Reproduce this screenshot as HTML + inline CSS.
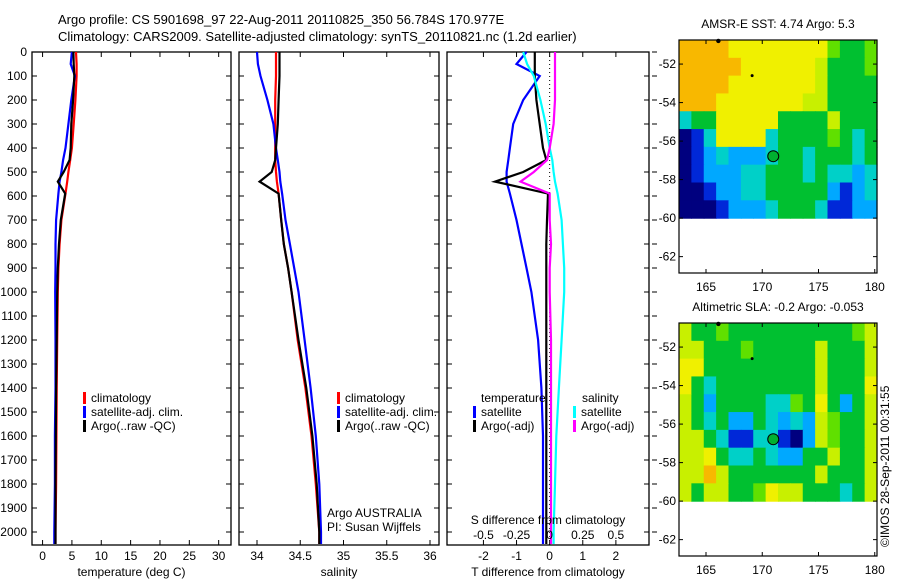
<!DOCTYPE html>
<html><head><meta charset="utf-8"><style>
html,body{margin:0;padding:0;background:#fff;}
svg{display:block;font-family:"Liberation Sans",sans-serif;}
</style></head><body>
<svg id="chart" width="900" height="580" viewBox="0 0 900 580" xmlns="http://www.w3.org/2000/svg">
<text x="58" y="24" font-size="13">Argo profile: CS 5901698_97 22-Aug-2011 20110825_350 56.784S 170.977E</text>
<text x="58" y="41" font-size="13">Climatology: CARS2009. Satellite-adjusted climatology: synTS_20110821.nc (1.2d earlier)</text>
<g id="plots"></g>
<text transform="translate(889,547) rotate(-90)" font-size="12">©IMOS 28-Sep-2011 00:31:55</text>
</svg>
<script>
// ---- profile data ----
const depths   = [0,50,100,200,300,400,450,500,540,590,700,800,900,1000,1200,1400,1600,1800,2000,2050];
const tempClim = [5.7,5.8,5.8,5.6,5.3,5.0,4.7,4.4,4.2,3.9,3.2,2.9,2.7,2.6,2.5,2.4,2.35,2.3,2.2,2.2];
const tempSat  = [5.0,4.8,5.5,4.9,4.4,3.9,3.5,3.2,2.9,2.7,2.3,2.2,2.2,2.15,2.2,2.2,2.1,2.1,2.0,2.0];
const tempArgo = [5.25,5.3,5.4,5.2,4.9,4.8,4.6,3.6,2.6,3.85,3.1,2.8,2.6,2.5,2.4,2.3,2.25,2.2,2.2,2.2];
const salClim  = [34.22,34.22,34.22,34.21,34.21,34.21,34.21,34.22,34.23,34.25,34.28,34.31,34.36,34.40,34.47,34.56,34.63,34.68,34.72,34.72];
const salSat   = [34.0,34.01,34.04,34.12,34.19,34.22,34.24,34.26,34.27,34.29,34.33,34.38,34.43,34.48,34.55,34.62,34.68,34.72,34.74,34.74];
const salArgo  = [34.26,34.26,34.26,34.25,34.24,34.22,34.21,34.17,34.03,34.25,34.28,34.31,34.36,34.40,34.48,34.57,34.64,34.69,34.72,34.72];
const tDiffSat = [-0.7,-1.0,-0.3,-0.8,-1.1,-1.2,-1.25,-1.3,-1.3,-1.2,-1.0,-0.85,-0.7,-0.55,-0.35,-0.25,-0.2,-0.2,-0.2,-0.2];
const tDiffArgo= [-0.45,-0.45,-0.45,-0.4,-0.3,-0.2,-0.1,-0.8,-1.65,-0.05,-0.08,-0.1,-0.1,-0.1,-0.1,-0.1,-0.1,-0.1,-0.1,-0.1];
const sDiffSat = [-0.2,-0.17,-0.12,-0.07,-0.03,0.0,0.02,0.03,0.04,0.06,0.09,0.10,0.11,0.11,0.09,0.07,0.05,0.04,0.03,0.03];
const sDiffArgo= [0.04,0.04,0.04,0.04,0.03,0.0,-0.02,-0.12,-0.22,0.0,0.0,0.01,0.0,0.0,0.01,0.01,0.01,0.01,0.01,0.01];
const depthTicks = [0,100,200,300,400,500,600,700,800,900,1000,1100,1200,1300,1400,1500,1600,1700,1800,1900,2000];
const tempTicks = [0,5,10,15,20,25,30];
const salTicks  = [34,34.5,35,35.5,36];
const salTickLabels = ["34","34.5","35","35.5","36"];
const tdTicks = [-2,-1,0,1,2];
const sdTicks = [-0.5,-0.25,0,0.25,0.5];
const sdTickLabels = ["-0.5","-0.25","0","0.25","0.5"];
// ---- map data (16 cols x 10 rows, palette index) ----
const sstGrid = [
"8888777777775445","8888877777764445","8888777777764444","8887777777664444",
"3447777744446444","0137777344445434","0123222344344434","0122233444343323",
"0012233444442123","0001222344431122"];
const slaGrid = [
"6445444444444456","6644454444464446","7744444444464446","7434444444464447",
"6424444335474246","6434224323265446","6643113310265446","6674334322446446",
"6686444444464446","6466445766444346"];
const palette = ["#00007f","#0028d8","#00a8ff","#00d0c8","#00c030","#60e000","#c8f000","#f0f000","#f8b800"];
const mapLatTicks = [-52,-54,-56,-58,-60,-62];
const mapLonTicks = [165,170,175,180];
const argoPos = [170.977,-56.784];
const starPos = [169.1,-52.6];
const dotPos = [166.1,-50.8];

const NS="http://www.w3.org/2000/svg";
const G=document.getElementById('plots');
function el(tag,attrs,parent,text){const e=document.createElementNS(NS,tag);for(const k in attrs)e.setAttribute(k,attrs[k]);if(text!==undefined)e.textContent=text;(parent||G).appendChild(e);return e;}
const yTop=52, yBot=545;
const yD=d=>yTop+d*0.24;

function panel(name,x0,x1,xmin,xmax){
  const g=el('g',{},G);
  
  
  const sx=v=>x0+(v-xmin)/(xmax-xmin)*(x1-x0);
  return {g,sx};
}
function frame(g,x0,x1,name){
  const r=el('rect',{x:x0,y:yTop,width:x1-x0,height:yBot-yTop,fill:'none',stroke:'#000','stroke-width':1.3},g);
  
  
  depthTicks.forEach(d=>{
    el('line',{x1:x0,x2:x0+5,y1:yD(d),y2:yD(d),stroke:'#000'},g);
    el('line',{x1:x1,x2:x1-5,y1:yD(d),y2:yD(d),stroke:'#000'},g);
  });
}
function series(g,sx,vals,color,name,w){
  const p=el('polyline',{points:vals.map((v,i)=>sx(v).toFixed(1)+','+yD(depths[i]).toFixed(1)).join(' '),fill:'none',stroke:color,'stroke-width':w||2.2},g);
  
  
}
function xticks(g,sx,ticks,labels,x0,x1){
  ticks.forEach((t,i)=>{
    el('line',{x1:sx(t),x2:sx(t),y1:yBot,y2:yBot-5,stroke:'#000'},g);
    el('line',{x1:sx(t),x2:sx(t),y1:yTop,y2:yTop+5,stroke:'#000'},g);
    const tx=el('text',{x:sx(t),y:560,'font-size':12,'text-anchor':'middle'},g,labels[i]);
    
    
  });
}
function legendRow(g,x,y,color,label){
  el('rect',{x:x,y:y-10,width:3,height:12,fill:color},g);
  const t=el('text',{x:x+8,y:y,'font-size':12},g,label);
  
  
}

// Depth labels
depthTicks.forEach(d=>{
  const t=el('text',{x:27,y:yD(d)+4,'font-size':12,'text-anchor':'end'},G,String(d));
  
  
});

// Panel 1: temperature
{const x0=32,x1=231;const P=panel('temperature-panel',x0,x1,-1.8,32.1);
 frame(P.g,x0,x1,'temperature-axes');
 xticks(P.g,P.sx,tempTicks,tempTicks.map(String));
 series(P.g,P.sx,tempClim,'#ff0000','temp-climatology-line');
 series(P.g,P.sx,tempSat,'#0000ff','temp-satellite-line');
 series(P.g,P.sx,tempArgo,'#000000','temp-argo-line');
 const t=el('text',{x:(x0+x1)/2,y:576,'font-size':12,'text-anchor':'middle'},P.g,'temperature (deg C)');
 
 legendRow(P.g,83,402,'#ff0000','climatology');
 legendRow(P.g,83,416,'#0000ff','satellite-adj. clim.');
 legendRow(P.g,83,430,'#000000','Argo(..raw -QC)');
}
// Panel 2: salinity
{const x0=239,x1=439;const P=panel('salinity-panel',x0,x1,33.792,36.104);
 frame(P.g,x0,x1,'salinity-axes');
 xticks(P.g,P.sx,salTicks,salTickLabels);
 series(P.g,P.sx,salClim,'#ff0000','sal-climatology-line');
 series(P.g,P.sx,salSat,'#0000ff','sal-satellite-line');
 series(P.g,P.sx,salArgo,'#000000','sal-argo-line');
 const t=el('text',{x:(x0+x1)/2,y:576,'font-size':12,'text-anchor':'middle'},P.g,'salinity');
 
 legendRow(P.g,337,402,'#ff0000','climatology');
 legendRow(P.g,337,416,'#0000ff','satellite-adj. clim.');
 legendRow(P.g,337,430,'#000000','Argo(..raw -QC)');
 const a=el('text',{x:327,y:517,'font-size':12},P.g,'Argo AUSTRALIA');
 
 const b=el('text',{x:327,y:531,'font-size':12},P.g,'PI: Susan Wijffels');
 
}
// Panel 3: differences
{const x0=447,x1=649;const P=panel('difference-panel',x0,x1,-3.1,3.0);
 const sxS=v=>P.sx(v*4);
 frame(P.g,x0,x1,'difference-axes');
 depthTicks.forEach(d=>el('line',{x1:x1+3,x2:x1+8,y1:yD(d),y2:yD(d),stroke:'#000'},P.g));
 xticks(P.g,P.sx,tdTicks,tdTicks.map(String));
 el('line',{x1:P.sx(0),x2:P.sx(0),y1:yTop,y2:yBot,stroke:'#000','stroke-dasharray':'1,3'},P.g);
 series(P.g,P.sx,tDiffSat,'#0000ff','t-diff-satellite-line');
 series(P.g,P.sx,tDiffArgo,'#000000','t-diff-argo-line');
 series(P.g,sxS,sDiffSat,'#00ffff','s-diff-satellite-line');
 series(P.g,sxS,sDiffArgo,'#ff00ff','s-diff-argo-line');
 sdTicks.forEach((t,i)=>{
   const tx=el('text',{x:sxS(t),y:539,'font-size':12,'text-anchor':'middle'},P.g,sdTickLabels[i]);
   
 });
 const s=el('text',{x:548,y:524,'font-size':12,'text-anchor':'middle'},P.g,'S difference from climatology');
 
 const t=el('text',{x:548,y:576,'font-size':12,'text-anchor':'middle'},P.g,'T difference from climatology');
 
 const h1=el('text',{x:481,y:402,'font-size':12},P.g,'temperature');
 
 const h2=el('text',{x:582,y:402,'font-size':12},P.g,'salinity');
 
 legendRow(P.g,473,416,'#0000ff','satellite');
 legendRow(P.g,473,430,'#000000','Argo(-adj)');
 legendRow(P.g,573,416,'#00ffff','satellite');
 legendRow(P.g,573,430,'#ff00ff','Argo(-adj)');
}
// Maps
function map(name,title,grid,top){
  const x0=679,x1=877,bot=top+233;
  const g=el('g',{},G);
  
  
  const lx=v=>x0+(v-162.6)/(180.2-162.6)*(x1-x0);
  const ly=v=>top+(-50.75-v)/(62.85-50.75)*(bot-top);
  const cols=grid[0].length, rows=grid.length;
  const cw=(lx(180.2)-lx(162.6))/cols, ch=(ly(-60)-ly(-50.75))/rows;
  grid.forEach((row,r)=>{[...row].forEach((c,k)=>{
    const cell=el('rect',{x:(x0+k*cw).toFixed(2),y:(top+r*ch).toFixed(2),width:(cw+0.6).toFixed(2),height:(ch+0.6).toFixed(2),fill:palette[+c]},g);
    
    
  });});
  el('rect',{x:x0,y:top,width:x1-x0,height:bot-top,fill:'none',stroke:'#000','stroke-width':1.2},g);
  mapLatTicks.forEach(v=>{
    el('line',{x1:x0,x2:x0+4,y1:ly(v),y2:ly(v),stroke:'#000'},g);
    el('line',{x1:x1,x2:x1-4,y1:ly(v),y2:ly(v),stroke:'#000'},g);
    const t=el('text',{x:x0-3,y:ly(v)+4,'font-size':12,'text-anchor':'end'},g,String(v));
    
  });
  mapLonTicks.forEach(v=>{
    el('line',{x1:lx(v),x2:lx(v),y1:bot,y2:bot-4,stroke:'#000'},g);
    el('line',{x1:lx(v),x2:lx(v),y1:top,y2:top+4,stroke:'#000'},g);
    const t=el('text',{x:lx(v),y:bot+18,'font-size':12,'text-anchor':'middle'},g,String(v));
    
  });
  const c=el('circle',{cx:lx(argoPos[0]),cy:ly(argoPos[1]),r:5.5,fill:'#00b030',stroke:'#000','stroke-width':1},g);
  
  el('circle',{cx:lx(starPos[0]),cy:ly(starPos[1]),r:1.5,fill:'#000'},g);
  el('circle',{cx:lx(dotPos[0]),cy:ly(dotPos[1]),r:2.2,fill:'#000'},g);
  const t=el('text',{x:(x0+x1)/2,y:top-12,'font-size':12,'text-anchor':'middle'},g,title);
  
}
map('sst-map','AMSR-E SST: 4.74 Argo: 5.3',sstGrid,40);
map('sla-map','Altimetric SLA: -0.2 Argo: -0.053',slaGrid,323);
</script>
</body></html>
